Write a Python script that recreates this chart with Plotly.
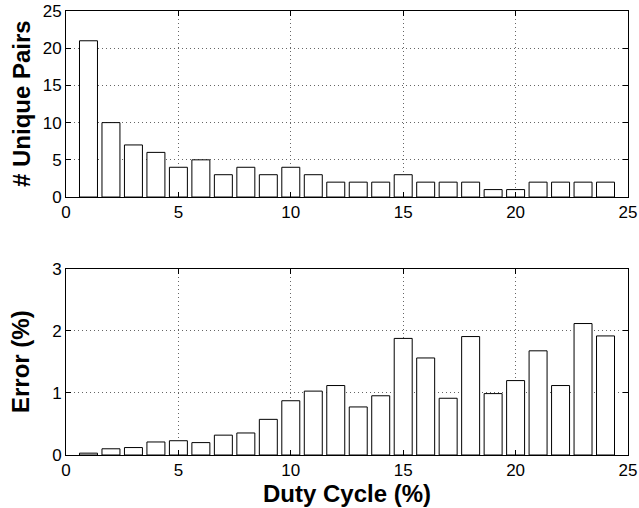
import plotly.graph_objects as go
from plotly.subplots import make_subplots

duty_cycle = list(range(1, 25))
unique_pairs = [21, 10, 7, 6, 4, 5, 3, 4, 3, 4, 3, 2, 2, 2, 3, 2, 2, 2, 1, 1, 2, 2, 2, 2]
error_pct = [0.03, 0.10, 0.12, 0.21, 0.23, 0.20, 0.32, 0.355, 0.575, 0.875, 1.03, 1.12,
             0.775, 0.955, 1.88, 1.565, 0.915, 1.91, 0.99, 1.20, 1.68, 1.12, 2.12, 1.92]

fig = make_subplots(rows=2, cols=1, vertical_spacing=0.162)

bar_style = dict(marker=dict(color="white", line=dict(color="black", width=1)), width=0.8,
                 showlegend=False)
fig.add_trace(go.Bar(x=duty_cycle, y=unique_pairs, **bar_style), row=1, col=1)
fig.add_trace(go.Bar(x=duty_cycle, y=error_pct, **bar_style), row=2, col=1)

family = "Liberation Sans, Arial, Helvetica, sans-serif"
font = dict(family=family, size=17, color="black")
title_font = dict(family=family, size=24, color="black")

axis_common = dict(showline=True, linecolor="black", linewidth=1, mirror="ticks",
                   ticks="inside", ticklen=5, tickcolor="black",
                   showgrid=True, gridcolor="#666666", griddash="1px,3px", gridwidth=1,
                   zeroline=False, tickfont=font, automargin=False,
                   ticklabeloverflow="allow")

fig.update_xaxes(range=[0, 25], dtick=5, tick0=0, **axis_common)
fig.update_yaxes(**axis_common)
fig.update_yaxes(range=[0, 25], dtick=5, tick0=0, row=1, col=1)
fig.update_yaxes(range=[0, 3], dtick=1, tick0=0, row=2, col=1)

# axis titles
fig.add_annotation(text="<b># Unique Pairs</b>", font=title_font, textangle=-90,
                   xref="paper", x=0, xanchor="center", xshift=-45,
                   yref="y domain", y=0.5, yanchor="middle", showarrow=False)
fig.add_annotation(text="<b>Error (%)</b>", font=title_font, textangle=-90,
                   xref="paper", x=0, xanchor="center", xshift=-45,
                   yref="y2 domain", y=0.5, yanchor="middle", showarrow=False)
fig.add_annotation(text="<b>Duty Cycle (%)</b>", font=title_font,
                   xref="x2 domain", x=0.5, xanchor="center",
                   yref="paper", y=0, yanchor="middle", yshift=-38, showarrow=False)

fig.update_layout(
    width=639, height=508,
    margin=dict(l=66, r=11, t=11, b=53),
    plot_bgcolor="white", paper_bgcolor="white",
    bargap=0.2, font=font,
)
fig.update_layout(yaxis=dict(domain=[0.581, 1.0]), yaxis2=dict(domain=[0.0, 0.419]))

fig.write_html("out.html",
               config={"displayModeBar": False},
               post_script="document.body.style.margin='0';document.body.style.overflow='hidden';")
